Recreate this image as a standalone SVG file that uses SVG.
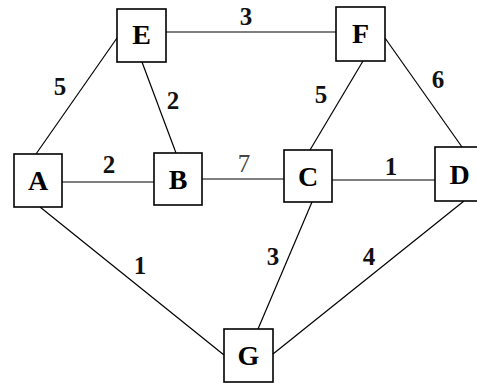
<svg xmlns="http://www.w3.org/2000/svg" width="477" height="383" viewBox="0 0 477 383">
<style>
.n rect{fill:#fff;stroke:#000;stroke-width:1.6}
.n text{font-family:"Liberation Serif","Times New Roman",serif;font-weight:bold;font-size:28px;text-anchor:middle;fill:#000}
#edges line{stroke:#000;stroke-width:1.2}
.w{font-family:"Liberation Serif","Times New Roman",serif;font-weight:bold;font-size:25px;text-anchor:middle;fill:#111}
.w7{font-weight:normal;fill:#444}
</style>
<rect width="477" height="383" fill="#fff"/>
<g id="edges">
<line x1="166" y1="32" x2="336" y2="32"/>
<line x1="36" y1="154" x2="117" y2="38"/>
<line x1="142" y1="62" x2="176" y2="153"/>
<line x1="62" y1="182" x2="154" y2="182"/>
<line x1="202" y1="179" x2="284" y2="179"/>
<line x1="332" y1="180" x2="435" y2="180"/>
<line x1="363" y1="61" x2="310" y2="150"/>
<line x1="385" y1="38" x2="462" y2="147"/>
<line x1="40" y1="207" x2="224" y2="355"/>
<line x1="312" y1="202" x2="258" y2="329"/>
<line x1="464" y1="201" x2="273" y2="354"/>
<text class="w" x="60" y="95">5</text>
<text class="w" x="173" y="109">2</text>
<text class="w" x="109" y="173">2</text>
<text class="w" x="246" y="25">3</text>
<text class="w" x="321" y="103">5</text>
<text class="w" x="438" y="88">6</text>
<text class="w" x="391" y="175">1</text>
<text class="w w7" x="244" y="172">7</text>
<text class="w" x="140" y="274">1</text>
<text class="w" x="273" y="265">3</text>
<text class="w" x="369" y="265">4</text>
</g>
<g id="E" class="n"><rect x="117" y="9" width="49" height="53"/><text x="141.5" y="44">E</text></g>
<g id="F" class="n"><rect x="336" y="7" width="49" height="54"/><text x="360.5" y="43">F</text></g>
<g id="A" class="n"><rect x="14" y="154" width="48" height="53"/><text x="38" y="190">A</text></g>
<g id="B" class="n"><rect x="154" y="153" width="48" height="52"/><text x="178" y="189">B</text></g>
<g id="C" class="n"><rect x="284" y="150" width="48" height="52"/><text x="308" y="186">C</text></g>
<g id="D" class="n"><rect x="435" y="147" width="49" height="54"/><text x="459.5" y="184">D</text></g>
<g id="G" class="n"><rect x="224" y="329" width="49" height="53"/><text x="248.5" y="365">G</text></g>
</svg>
